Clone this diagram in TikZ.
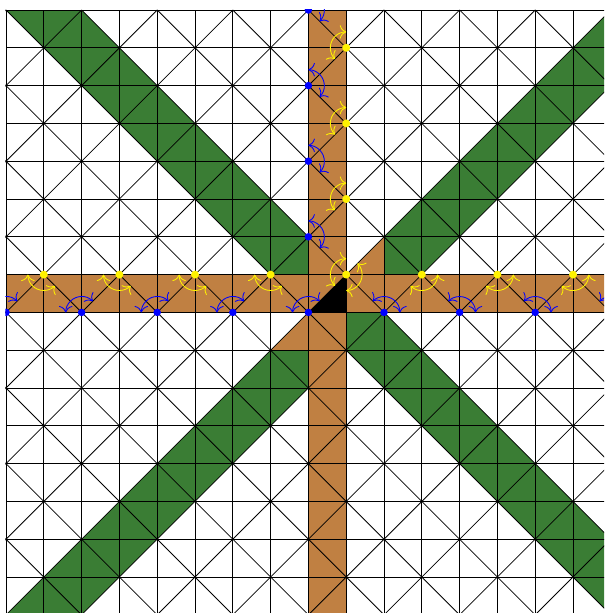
\documentclass[tikz,border=0pt]{standalone}
\usetikzlibrary{arrows.meta}
\definecolor{leafgreen}{RGB}{58,125,52}
\definecolor{clay}{RGB}{192,128,66}

\begin{document}
\begin{tikzpicture}[
  tile/.style  = {draw=black, line width=0.6pt},
  band/.style  = {fill=leafgreen},
  strip/.style = {fill=clay},
  ydot/.style  = {circle, fill=yellow, inner sep=0pt, minimum size=2.1mm},
  bdot/.style  = {circle, fill=blue, inner sep=0pt, minimum size=2.0mm},
  turn/.style  = {{To[scale=1.6]}-{To[scale=1.6]}, line width=0.65pt},
]
\useasboundingbox (-0.159,0.048) rectangle (15.820,16.265);
\clip (-0.02,0.048) rectangle (15.82,16.02);

% ---- diagonal bands --------------------------------------------------------
\fill[band] (16,0) -- (18,0) -- (2,16) -- (0,16) -- cycle;
\fill[band] (0,0) -- (2,0) -- (18,16) -- (16,16) -- cycle;

% ---- cross -----------------------------------------------------------------
\fill[strip] (8,0) rectangle (9,16);
\fill[strip] (0,8) rectangle (16,9);
\fill[strip] (9,9) -- (10,9) -- (10,10) -- cycle;
\fill[strip] (7,7) -- (8,7) -- (8,8) -- cycle;
\fill[black] (8,8) -- (9,8) -- (9,9) -- cycle;

% ---- grid ------------------------------------------------------------------
\foreach \k in {0,...,16} {
  \draw[tile] (\k,0) -- (\k,16);
  \draw[tile] (0,\k) -- (16,\k);
}
\foreach \d in {-16,-14,...,16} \draw[tile] (\d,0) -- ++(16,16);
\foreach \d in {0,2,...,32}     \draw[tile] (\d,0) -- ++(-16,16);

% ---- vertices --------------------------------------------------------------
\foreach \x in {1,3,...,15}      \node[ydot] (yr-\x) at (\x,9) {};
\foreach \y in {11,13,15}        \node[ydot] (yc-\y) at (9,\y) {};
\foreach \x in {0,2,...,16}      \node[bdot] (br-\x) at (\x,8) {};
\foreach \y in {10,12,14,16}     \node[bdot] (bc-\y) at (8,\y) {};

% ---- turns -----------------------------------------------------------------
\foreach \x in {1,3,5,7}
  \draw[turn, yellow] (yr-\x.center) ++(180:0.42) arc (180:315:0.42);
\foreach \x in {11,13,15}
  \draw[turn, yellow] (yr-\x.center) ++(225:0.42) arc (225:360:0.42);
\foreach \n in {yr-9,yc-11,yc-13,yc-15}
  \draw[turn, yellow] (\n.center) ++(90:0.42) arc (90:225:0.42);
\draw[turn, yellow] (yr-9.center) ++(-90:0.42) arc (-90:45:0.42);

\foreach \x in {0,2,4,6,8}
  \draw[turn, blue] (br-\x.center) ++(45:0.42) arc (45:180:0.42);
\foreach \x in {10,12,14,16}
  \draw[turn, blue] (br-\x.center) ++(0:0.42) arc (0:135:0.42);
\foreach \y in {10,12,14,16}
  \draw[turn, blue] (bc-\y.center) ++(-45:0.42) arc (-45:90:0.42);

\end{tikzpicture}
\end{document}
